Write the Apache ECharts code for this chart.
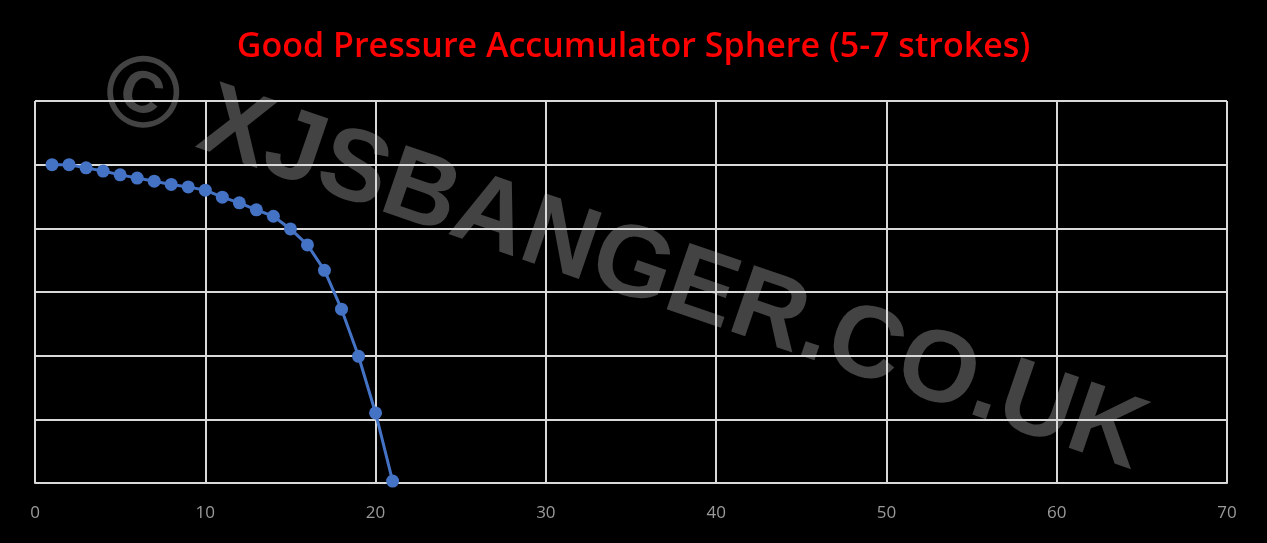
<!DOCTYPE html>
<html><head><meta charset="utf-8">
<script src="https://cdn.jsdelivr.net/npm/echarts@6/dist/echarts.min.js"></script>
<style>html,body{margin:0;padding:0;background:#000}#c{width:1267px;height:543px}</style>
</head><body><div id="c"></div>
<script>
const titleText = 'Good Pressure Accumulator Sphere (5-7 strokes)';
const watermarkText = '© XJSBANGER.CO.UK';
const strokes = [1,2,3,4,5,6,7,8,9,10,11,12,13,14,15,16,17,18,19,20,21];
const pressure = [50,50,49.5,49,48.4,47.9,47.4,46.9,46.5,46,44.9,44,42.9,41.9,39.9,37.4,33.4,27.3,19.9,11,0.3];
const xTicks = [0,10,20,30,40,50,60,70];

const chart = echarts.init(document.getElementById('c'));
chart.setOption({
  backgroundColor:'#000',
  animation:false,
  title:{text:titleText,left:'center',top:25,textStyle:{color:'#ff0000',fontSize:34,fontWeight:600,fontFamily:'Open Sans'}},
  graphic:[{type:'text',z:0,zlevel:0,x:122,y:38,rotation:-19*Math.PI/180,
    style:{text:watermarkText,fill:'#434343',font:'bold 102px "Liberation Sans"'}}],
  grid:{left:35,right:40,top:101,bottom:60},
  xAxis:{type:'value',min:0,max:70,interval:10,
    axisLine:{show:true,lineStyle:{color:'#d9d9d9',width:2}},axisTick:{show:false},
    axisLabel:{color:'#9a9a9a',fontSize:17,margin:22,fontFamily:'Open Sans',formatter:v=>xTicks.includes(v)?String(v):''},
    splitLine:{show:true,lineStyle:{color:'#d9d9d9',width:2}}},
  yAxis:{type:'value',min:0,max:60,interval:10,
    axisLine:{show:false},axisTick:{show:false},axisLabel:{show:false},
    splitLine:{show:true,lineStyle:{color:'#d9d9d9',width:2}}},
  series:[{type:'line',data:strokes.map((s,i)=>[s,pressure[i]]),z:10,
    lineStyle:{color:'#4472C4',width:3},itemStyle:{color:'#4472C4'},
    symbol:'circle',symbolSize:13}]
});
</script></body></html>
